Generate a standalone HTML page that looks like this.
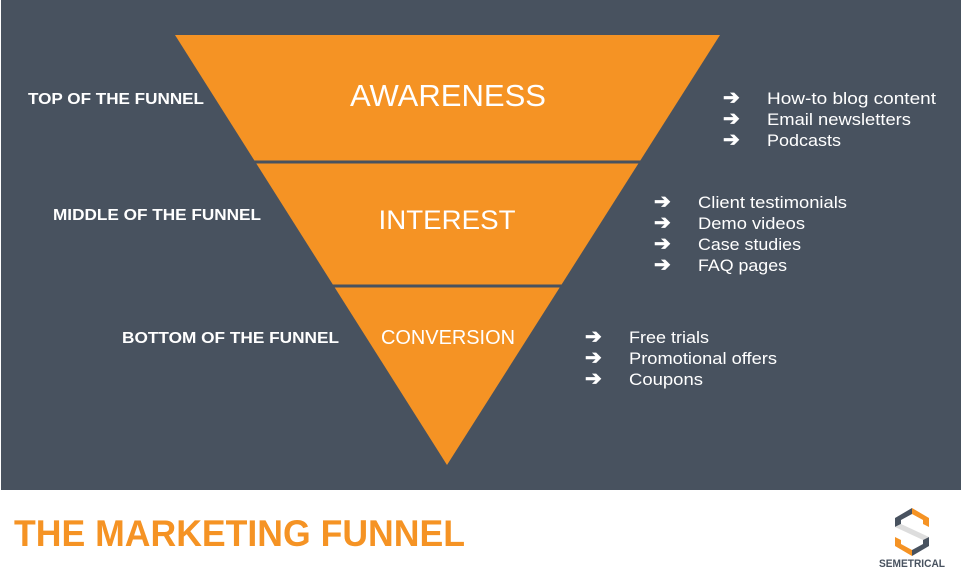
<!DOCTYPE html>
<html><head><meta charset="utf-8"><style>
html,body{margin:0;padding:0;background:#fff;}
svg{display:block;}
text{font-family:"Liberation Sans",sans-serif;}
</style></head><body>
<svg width="961" height="579" viewBox="0 0 961 579" xmlns="http://www.w3.org/2000/svg">
<rect x="0" y="0" width="961" height="579" fill="#fff"/>
<rect x="1" y="0" width="960" height="490" fill="#48525f"/>
<polygon points="175,35 720,35 447,465" fill="#f59324"/>
<line x1="240" y1="162" x2="650" y2="162" stroke="#48525f" stroke-width="3"/>
<line x1="320" y1="286" x2="580" y2="286" stroke="#48525f" stroke-width="3"/>
<g fill="#fff" text-anchor="middle">
<text x="448" y="106" font-size="31" textLength="196" lengthAdjust="spacingAndGlyphs">AWARENESS</text>
<text x="447" y="229" font-size="27" textLength="137" lengthAdjust="spacingAndGlyphs">INTEREST</text>
<text x="448" y="344" font-size="20" textLength="134" lengthAdjust="spacingAndGlyphs">CONVERSION</text>
</g>
<g fill="#fff" font-weight="bold" font-size="16">
<text x="28" y="104" textLength="176" lengthAdjust="spacingAndGlyphs">TOP OF THE FUNNEL</text>
<text x="53" y="220" textLength="208" lengthAdjust="spacingAndGlyphs">MIDDLE OF THE FUNNEL</text>
<text x="122" y="343" textLength="217" lengthAdjust="spacingAndGlyphs">BOTTOM OF THE FUNNEL</text>
</g>
<g fill="#fff" font-size="20" font-weight="bold">
<text x="723" y="104">➔</text>
<text x="723" y="125">➔</text>
<text x="723" y="146">➔</text>
<text x="654" y="208">➔</text>
<text x="654" y="229">➔</text>
<text x="654" y="250">➔</text>
<text x="654" y="271">➔</text>
<text x="585" y="343">➔</text>
<text x="585" y="364">➔</text>
<text x="585" y="385">➔</text>
</g>
<g fill="#fff" font-size="17">
<text x="767" y="104" textLength="169" lengthAdjust="spacingAndGlyphs">How-to blog content</text>
<text x="767" y="125" textLength="144" lengthAdjust="spacingAndGlyphs">Email newsletters</text>
<text x="767" y="146" textLength="74" lengthAdjust="spacingAndGlyphs">Podcasts</text>
<text x="698" y="208" textLength="149" lengthAdjust="spacingAndGlyphs">Client testimonials</text>
<text x="698" y="229" textLength="107" lengthAdjust="spacingAndGlyphs">Demo videos</text>
<text x="698" y="250" textLength="103" lengthAdjust="spacingAndGlyphs">Case studies</text>
<text x="698" y="271" textLength="89" lengthAdjust="spacingAndGlyphs">FAQ pages</text>
<text x="629" y="343" textLength="80" lengthAdjust="spacingAndGlyphs">Free trials</text>
<text x="629" y="364" textLength="148" lengthAdjust="spacingAndGlyphs">Promotional offers</text>
<text x="629" y="385" textLength="74" lengthAdjust="spacingAndGlyphs">Coupons</text>
</g>
<text x="14" y="546" font-size="37" font-weight="bold" fill="#f59324" textLength="451" lengthAdjust="spacingAndGlyphs">THE MARKETING FUNNEL</text>
<g>
<polygon points="895,518 912,508 912,514 901,520 901,524 895,527" fill="#48525f"/>
<polygon points="912,508 929,518 929,527 923,524 923,520 912,514" fill="#f59324"/>
<polygon points="901,524 929,537 923,540 895,527" fill="#ddd"/>
<polygon points="895,537 901,540 901,544 912,550 912,556 895,546" fill="#f59324"/>
<polygon points="929,537 929,546 912,556 912,550 923,544 923,540" fill="#48525f"/>
<text x="879" y="567" font-size="11" fill="#48525f" font-weight="bold" textLength="66" lengthAdjust="spacingAndGlyphs">SEMETRICAL</text>
</g>
</svg>
</body></html>
